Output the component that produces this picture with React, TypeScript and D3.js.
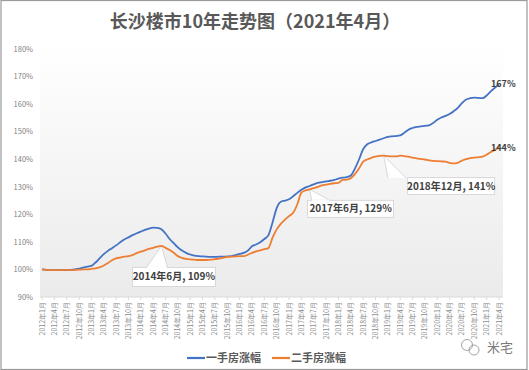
import React from 'react';
import * as d3 from 'd3';

// Monthly index values, Jan 2012 .. Apr 2021 (2012-01 = 100)
const startYear = 2012;
const newHomes = [
  100, 99.8, 99.7, 99.7, 99.8, 99.8, 99.7, 99.8, 100.0, 100.3, 100.6, 101.0,
  101.3, 102.5, 104.0, 105.5, 106.7, 107.7, 108.7, 109.8, 110.8, 111.6, 112.4, 113.1,
  113.7, 114.3, 114.8, 115.1, 115.0, 114.5, 113.0, 111.0, 109.5, 108.0, 106.8, 106.0,
  105.4, 105.0, 104.8, 104.7, 104.6, 104.5, 104.5, 104.6, 104.6, 104.7, 104.8, 105.2,
  105.6, 106.0, 106.8, 108.4, 109.0, 109.8, 111.0, 112.4, 117.0, 122.2, 124.5, 124.9,
  125.4, 126.5, 127.7, 128.8, 129.7, 130.2, 130.8, 131.3, 131.6, 131.9, 132.1, 132.4,
  132.9, 133.2, 133.4, 134.0, 136.5, 139.8, 143.5, 145.3, 146.0, 146.5, 147.0, 147.5,
  148.0, 148.2, 148.3, 148.5, 149.5, 150.6, 151.2, 151.6, 151.8, 152.0, 152.2, 153.0,
  154.2, 155.0, 155.6, 156.3, 157.3, 158.5, 160.2, 161.5, 162.0, 162.2, 162.1, 162.0,
  163.0, 164.5, 165.8, 167.0,
];
const resaleHomes = [
  100, 99.8, 99.7, 99.7, 99.7, 99.8, 99.8, 99.7, 99.8, 99.9, 100.0, 100.0,
  100.2, 100.4, 100.7, 101.4, 102.3, 103.3, 104.0, 104.3, 104.6, 104.8, 105.2, 105.9,
  106.4, 106.9, 107.4, 107.8, 108.2, 108.5, 107.8, 107.0, 106.0, 104.8, 104.2, 103.8,
  103.6, 103.5, 103.4, 103.4, 103.4, 103.5, 103.7, 103.9, 104.2, 104.5, 104.6, 104.7,
  104.8, 104.8, 105.3, 106.0, 106.5, 106.9, 107.3, 107.7, 111.5, 114.5, 116.5, 118.0,
  119.3, 120.5, 123.5, 127.8, 128.6, 129.0, 129.4, 129.9, 130.4, 130.7, 131.0, 131.2,
  131.3, 132.4, 132.5, 133.0, 134.5, 136.5, 139.0, 139.8, 140.4, 140.8, 141.1, 141.2,
  141.0, 140.9, 140.9, 141.2, 141.0, 140.8, 140.5, 140.2, 140.0, 139.8, 139.5, 139.3,
  139.2, 139.1, 139.0, 138.6, 138.4, 138.6, 139.4, 139.9, 140.3, 140.5, 140.6, 140.8,
  141.5, 142.5, 143.3, 144.0,
];
const yTicks = [90, 100, 110, 120, 130, 140, 150, 160, 170, 180];
const seriesNames = ['一手房涨幅', '二手房涨幅'];
// callouts: series index, month index, text
const callouts = [
  { s: 1, m: 29, text: '2014年6月, 109%' },
  { s: 1, m: 65, text: '2017年6月, 129%' },
  { s: 1, m: 83, text: '2018年12月, 141%' },
];

const W = 529;
const H = 370;
const FONT = '"Noto Sans CJK SC", "Noto Sans", sans-serif';
const colors = ['#4472C4', '#ED7D31'];

const monthLabel = (m: number) => `${startYear + Math.floor(m / 12)}年${(m % 12) + 1}月`;

const x = d3.scaleLinear().domain([0, newHomes.length - 1]).range([42, 499]);
const y = d3.scaleLinear().domain([90, 180]).range([297, 48.5]);

const line = d3.line<number>()
  .x((_, i) => x(i))
  .y(d => y(d))
  .curve(d3.curveMonotoneX);

const labelMonths = d3.range(0, newHomes.length, 3);

// box placement relative to the pointed-at data point
const boxLayout = [
  { dx: -29, dy: 21.5, w: 83, h: 19, b0: -15, b1: 6 },
  { dx: -2, dy: 11, w: 86, h: 17, b0: 2, b1: 20 },
  { dx: 24, dy: 22, w: 87, h: 17, b0: 4, b1: 22 },
];

const App: React.FC = () => {
  const data = [newHomes, resaleHomes];
  return (
    <div style={{ position: 'fixed', left: 0, top: 0 }}>
      <svg width={W} height={H} style={{ display: 'block', fontFamily: FONT }}>
        <defs>
          <linearGradient id="plotBg" x1="0" y1="0" x2="0" y2="1">
            <stop offset="0%" stopColor="#ffffff" />
            <stop offset="100%" stopColor="#ebebeb" />
          </linearGradient>
        </defs>
        <rect x={0} y={0} width={W} height={H} fill="#fff" />
        <rect x={1} y={0.5} width={W - 3} height={H - 1} fill="none" stroke="#9a9a9a" strokeWidth={1.2} />

        {/* title */}
        <text x={255} y={28} textAnchor="middle" fontSize={18} fontWeight="bold" fill="#595959">
          长沙楼市10年走势图（2021年4月）
        </text>

        {/* plot area */}
        <rect x={40} y={42} width={463} height={y(90) - 42} fill="url(#plotBg)" />
        <line x1={40} x2={503} y1={y(90)} y2={y(90)} stroke="#d9d9d9" />

        {/* y axis labels */}
        {yTicks.map(t => (
          <text key={t} x={33} y={y(t) + 3} textAnchor="end" fontSize={7.5} fill="#7f7f7f">
            {t}%
          </text>
        ))}

        {/* x axis labels */}
        {labelMonths.map(m => (
          <g key={m}>
            <line x1={x(m)} x2={x(m)} y1={y(90)} y2={y(90) + 3} stroke="#d9d9d9" />
            <text
              transform={`translate(${x(m) + 2.5},${y(90) + 5}) rotate(-90)`}
              textAnchor="end"
              fontSize={7}
              fill="#8c8c8c"
            >
              {monthLabel(m)}
            </text>
          </g>
        ))}

        {/* callouts */}
        {callouts.map((c, i) => {
          const px = x(c.m);
          const py = y(data[c.s][c.m]);
          const L = boxLayout[i];
          const bx = px + L.dx;
          const by = py + L.dy;
          return (
            <g key={c.text}>
              <polygon
                points={`${px},${py} ${px + L.b0},${by} ${px + L.b1},${by}`}
                fill="#ffffff"
                stroke="#d0d0d0"
                strokeWidth={0.8}
              />
              <rect x={bx} y={by} width={L.w} height={L.h} fill="#ffffff" stroke="#d0d0d0" strokeWidth={0.8} />
              <line x1={px + L.b0 + 0.5} x2={px + L.b1 - 0.5} y1={by} y2={by} stroke="#ffffff" strokeWidth={1.2} />
              <text x={bx + L.w / 2} y={by + L.h / 2 + 3.5} textAnchor="middle" fontSize={10} fontWeight="bold" fill="#404040">
                {c.text}
              </text>
            </g>
          );
        })}

        {/* lines */}
        {data.map((d, i) => (
          <path key={i} d={line(d) || ''} fill="none" stroke={colors[i]} strokeWidth={1.8} />
        ))}

        {/* end labels */}
        {data.map((d, i) => (
          <text key={i} x={x(d.length - 1) - 8} y={y(d[d.length - 1]) + 3} fontSize={9} fontWeight="bold" fill="#404040">
            {Math.round(d[d.length - 1])}%
          </text>
        ))}

        {/* legend */}
        {seriesNames.map((n, i) => (
          <g key={n} transform={`translate(${187 + i * 85},358)`}>
            <line x1={0} x2={18} y1={0} y2={0} stroke={colors[i]} strokeWidth={2.2} />
            <text x={19} y={4} fontSize={11} fontWeight="bold" fill="#595959">{n}</text>
          </g>
        ))}

        {/* watermark */}
        <g transform="translate(470,347)" fill="none" stroke="#9a9a9a" strokeWidth={0.9}>
          <circle cx={-3} cy={-2} r={5.5} />
          <circle cx={4} cy={3} r={5} />
        </g>
        <text x={487} y={352} fontSize={13} fill="#7a7a7a">米宅</text>
      </svg>
    </div>
  );
};

export default App;
